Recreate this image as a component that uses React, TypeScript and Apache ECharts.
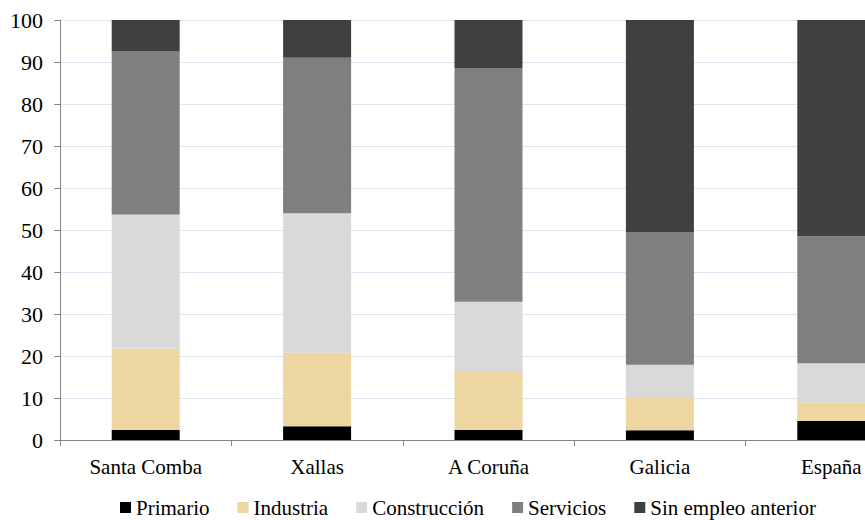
import React, { useEffect, useRef } from "react";
import * as echarts from "echarts";

const categories = ["Santa Comba", "Xallas", "A Coruña", "Galicia", "España"];
const primario = [2.4, 3.3, 2.4, 2.3, 4.5];
const industria = [19.4, 17.5, 14.0, 7.7, 4.5];
const construccion = [31.9, 33.2, 16.5, 7.9, 9.3];
const servicios = [38.8, 37.0, 55.7, 31.6, 30.2];
const sinEmpleo = [7.5, 9.0, 11.4, 50.5, 51.5];

const seriesNames = ["Primario", "Industria", "Construcción", "Servicios", "Sin empleo anterior"];
const seriesData = [primario, industria, construccion, servicios, sinEmpleo];
const seriesColors = ["#000000", "#EDD6A0", "#D9D9D9", "#7F7F7F", "#404040"];

const FONT = "Liberation Serif";

export default function App() {
  const ref = useRef<HTMLDivElement>(null);
  useEffect(() => {
    document.documentElement.style.overflow = "hidden";
    document.body.style.overflow = "hidden";
    if (!ref.current) return;
    const chart = echarts.init(ref.current, undefined, { renderer: "svg" });
    chart.setOption({
      animation: false,
      backgroundColor: "#ffffff",
      textStyle: { fontFamily: FONT },
      grid: { left: 60, top: 20, bottom: 80, right: 0, containLabel: false },
      legend: {
        left: 120,
        top: 497,
        padding: 0,
        itemWidth: 11,
        itemHeight: 11,
        itemGap: 28,
        icon: "rect",
        textStyle: { fontFamily: FONT, fontSize: 21, color: "#000", lineHeight: 21 },
        data: seriesNames,
      },
      xAxis: {
        type: "category",
        data: categories,
        axisLine: { lineStyle: { color: "#868686", width: 1 } },
        axisTick: { show: true, length: 6, lineStyle: { color: "#868686" } },
        axisLabel: { fontFamily: FONT, fontSize: 21, color: "#000", margin: 16 },
      },
      yAxis: {
        type: "value",
        min: 0,
        max: 100,
        interval: 10,
        axisLine: { show: true, lineStyle: { color: "#868686", width: 1 } },
        axisTick: { show: true, length: 6, lineStyle: { color: "#868686" } },
        axisLabel: { fontFamily: FONT, fontSize: 22, color: "#000", margin: 17 },
        splitLine: { show: true, lineStyle: { color: "#DCE6F2", width: 1 } },
      },
      series: seriesNames.map((name, i) => ({
        name,
        type: "bar",
        stack: "total",
        barWidth: 68,
        data: seriesData[i],
        itemStyle: { color: seriesColors[i] },
      })),
    });
    return () => chart.dispose();
  }, []);
  return <div ref={ref} style={{ width: 917, height: 520, position: "absolute", left: 0, top: 0 }} />;
}
